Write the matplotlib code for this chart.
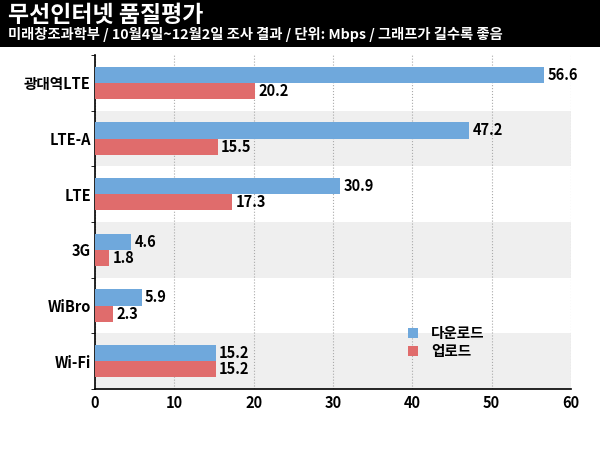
import numpy as np
import matplotlib.pyplot as plt
from matplotlib.patches import Rectangle

plt.rcParams['font.family'] = ['Noto Sans CJK KR', 'DejaVu Sans']

# -----------------------------
# DATA
# -----------------------------
categories = ["광대역LTE", "LTE-A", "LTE", "3G", "WiBro", "Wi-Fi"]
download = [56.6, 47.2, 30.9, 4.6, 5.9, 15.2]
upload = [20.2, 15.5, 17.3, 1.8, 2.3, 15.2]
series_names = ["다운로드", "업로드"]

BLUE = "#6fa8dc"
RED = "#e06c6c"

fig = plt.figure(figsize=(6, 4.5), dpi=100)

# black header
fig.patches.append(Rectangle((0, 1 - 47 / 450), 1, 47 / 450, transform=fig.transFigure,
                             facecolor="black", edgecolor="none", zorder=0))
fig.text(8 / 600, 1 - 16 / 450, "무선인터넷 품질평가", color="white", fontsize=16.5,
         fontweight="bold", va="center", ha="left")
fig.text(8 / 600, 1 - 34 / 450,
         "미래창조과학부 / 10월4일~12월2일 조사 결과 / 단위: Mbps / 그래프가 길수록 좋음",
         color="white", fontsize=10.3, fontweight="bold", va="center", ha="left")

ax = fig.add_axes([95 / 600, 1 - 389 / 450, (571 - 95) / 600, (389 - 55) / 450])

y = np.arange(len(categories))
h = 0.29

# alternating background bands
for i in y:
    if i % 2 == 1:
        ax.axhspan(i - 0.5, i + 0.5, color="#efefef", zorder=0, lw=0)

ax.barh(y - h / 2, download, height=h, color=BLUE, label=series_names[0], zorder=3)
ax.barh(y + h / 2, upload, height=h, color=RED, label=series_names[1], zorder=3)

for i in y:
    ax.text(download[i] + 0.4, i - h / 2, f"{download[i]}", va="center", ha="left",
            fontsize=10.5, fontweight="bold", zorder=4)
    ax.text(upload[i] + 0.4, i + h / 2, f"{upload[i]}", va="center", ha="left",
            fontsize=10.5, fontweight="bold", zorder=4)

ax.set_xlim(0, 60)
ax.set_ylim(len(categories) - 0.5, -0.5)
ax.set_xticks(range(0, 61, 10))
ax.set_yticks(y)
ax.set_yticklabels(categories, fontsize=10.5, fontweight="bold")
ax.set_yticks(np.arange(-0.5, len(categories), 1), minor=True)
ax.tick_params(axis="y", which="major", length=0, pad=3)
ax.tick_params(axis="y", which="minor", length=3, direction="out", color="black")
ax.tick_params(axis="x", length=0, labelsize=10.5, pad=4)
for lab in ax.get_xticklabels():
    lab.set_fontweight("bold")

ax.grid(axis="x", linestyle=":", color="#aaaaaa", linewidth=0.8, zorder=1)
ax.set_axisbelow(True)

for s in ["top", "right"]:
    ax.spines[s].set_visible(False)
ax.spines["left"].set_linewidth(1.2)
ax.spines["bottom"].set_linewidth(1.2)

leg = ax.legend(loc="upper left", bbox_to_anchor=(0.63, 0.23), frameon=False,
                handlelength=0.7, handleheight=0.7, handletextpad=0.9,
                prop={"weight": "bold", "size": 10.5}, labelspacing=0.15)

fig.savefig("out.png", dpi=100)
